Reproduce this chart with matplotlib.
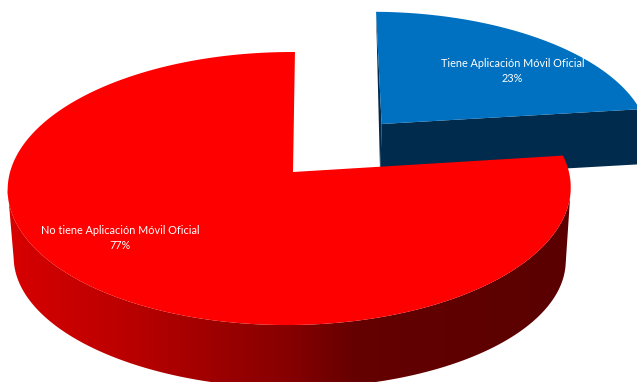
import numpy as np
import matplotlib
matplotlib.use("Agg")
import matplotlib.pyplot as plt
from matplotlib.colors import LinearSegmentedColormap
from matplotlib.patches import Polygon

categories = ["Tiene Aplicación Móvil Oficial", "No tiene Aplicación Móvil Oficial"]
percents = [23, 77]
explode = [0.49, 0.0]

plt.rcParams["font.family"] = ["Lato", "DejaVu Sans"]

# perspective planes for the top of the pie and for its underside
top_plane = dict(cx=293.0, cy=172.0, a=279.4, b=134.5, k=0.121, j=0.0125, s=2.2, t=0.0)
low_plane = dict(cx=293.4, cy=246.0, a=274.6, b=127.7, k=0.100, j=0.0125, s=2.2, t=3.0)
# the pulled out slice sits further back so its wall looks shorter
blue_top_plane = dict(top_plane, a=282.0, b=137.0, s=4.2)
blue_low_plane = dict(blue_top_plane, cy=top_plane["cy"] + 55.0, cx=top_plane["cx"] - 2.0, a=284.0)


def project(u, v, p):
    w = 1 + p["k"] * v + p["j"] * u
    x = p["cx"] + (p["a"] * u + p["s"] * v) / w
    y = p["cy"] + (-p["b"] * v + p["t"] * u) / w
    return np.column_stack([x, y])


def rim(a0, a1, offset, p, n=200):
    # angles are degrees clockwise from 12 o'clock
    ang = np.radians(np.linspace(a0, a1, n))
    return project(offset[0] + np.sin(ang), offset[1] + np.cos(ang), p)


def apex(offset, p):
    return project(np.array([offset[0]]), np.array([offset[1]]), p)


fig = plt.figure(figsize=(6.37, 3.82), dpi=100)
ax = fig.add_axes([0, 0, 1, 1])
ax.set_xlim(0, 637)
ax.set_ylim(382, 0)
ax.axis("off")

blue_sweep = 360 * percents[0] / sum(percents)
mid = np.radians(blue_sweep / 2)
blue_off = (explode[0] * np.sin(mid), explode[0] * np.cos(mid))
red_off = (0.0, 0.0)

# pulled out slice: walls first, then its top
blue_wall = "#002B4C"
blue_top = "#0070C0"
top_rim = rim(0, blue_sweep, blue_off, blue_top_plane)
low_rim = rim(0, blue_sweep, blue_off, blue_low_plane)
a_top = apex(blue_off, blue_top_plane)
a_low = apex(blue_off, blue_low_plane)
ax.fill(*np.vstack([a_top, top_rim[-1:], low_rim[-1:], a_low]).T, color=blue_wall, lw=0)
ax.fill(*np.vstack([a_top, top_rim[:1], a_low]).T, color=blue_wall, lw=0)
ax.fill(*np.vstack([a_top, top_rim]).T, color=blue_top, lw=0)

# big slice: shaded outer wall, clipped to the band between both rims
red_wall = LinearSegmentedColormap.from_list(
    "red_wall",
    [(0.0, "#D80000"), (0.2, "#BC0000"), (0.5, "#860000"), (0.62, "#640000"), (1.0, "#5A0000")],
)
upper = rim(97, 263, red_off, top_plane)
lower = rim(97, 263, red_off, low_plane)
band = Polygon(np.vstack([upper, lower[::-1]]), transform=ax.transData, fc="none", ec="none")
ax.add_patch(band)
shade = ax.imshow(
    np.linspace(0, 1, 570).reshape(1, -1),
    cmap=red_wall,
    extent=(5, 575, 382, 150),
    aspect="auto",
    zorder=1,
)
shade.set_clip_path(band)
ax.set_xlim(0, 637)
ax.set_ylim(382, 0)

red_rim = rim(blue_sweep, 360, red_off, top_plane, n=500)
ax.fill(*np.vstack([apex(red_off, top_plane), red_rim]).T, color="#FF0000", lw=0, zorder=2)

ax.text(512.5, 71, f"{categories[0]}\n{percents[0]}%", color="white", fontsize=7.8,
        ha="center", va="center", linespacing=1.35, zorder=3)
ax.text(120, 238, f"{categories[1]}\n{percents[1]}%", color="white", fontsize=7.8,
        ha="center", va="center", linespacing=1.35, zorder=3)

fig.savefig("out.png", dpi=100)
